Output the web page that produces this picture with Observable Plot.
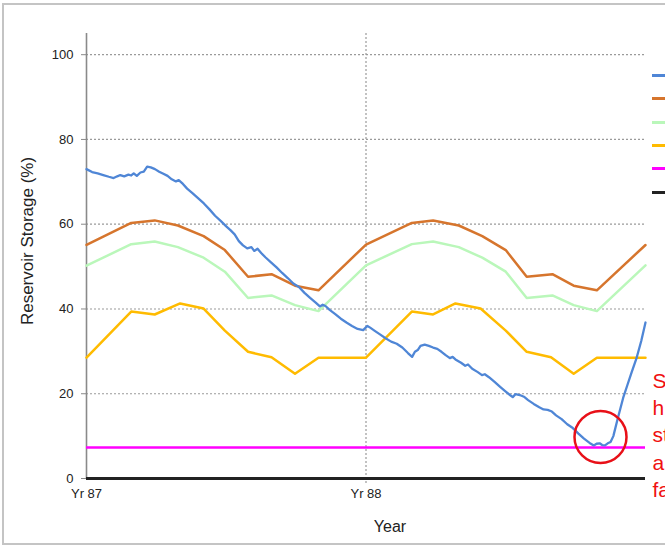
<!DOCTYPE html>
<html>
<head>
<meta charset="utf-8">
<script src="https://cdn.jsdelivr.net/npm/d3@7"></script>
<script src="https://cdn.jsdelivr.net/npm/@observablehq/plot@0.6"></script>
<style>
  html, body { margin: 0; padding: 0; background: #fff; overflow: hidden; }
  #wrap { position: relative; width: 665px; height: 550px; overflow: hidden; font-family: "Liberation Sans", Arial, sans-serif; }
  #frame { position: absolute; left: 2px; top: 3px; width: 720px; height: 542px; border: 2px solid #c4c4c4; box-sizing: border-box; }
  #chart { position: absolute; left: 0; top: 0; }
  #legend { position: absolute; left: 652px; top: 0; }
  .sw { position: absolute; left: 0; width: 20px; height: 3px; }
</style>
</head>
<body>
<div id="wrap">
  <div id="frame"></div>
  <div id="chart"></div>
  <div id="legend"></div>
</div>
<script>
// ---------- data ----------
const xTicks = [0, 1];
const xTickLabels = ["Yr 87", "Yr 88"];
const yTicks = [0, 20, 40, 60, 80, 100];
const yGrid = [20, 40, 60, 80, 100];

// simulated storage (blue)
const storage = [
  [0.000,73.0],[0.020,72.3],[0.040,72.0],[0.060,71.6],[0.080,71.2],[0.097,70.9],[0.110,71.3],
  [0.121,71.6],[0.135,71.3],[0.150,71.7],[0.160,71.5],[0.169,72.0],[0.180,71.4],[0.193,72.2],
  [0.205,72.4],[0.217,73.6],[0.230,73.4],[0.245,73.0],[0.260,72.4],[0.275,71.9],[0.290,71.4],
  [0.305,70.6],[0.320,70.1],[0.330,70.4],[0.345,69.5],[0.360,68.4],[0.380,67.3],[0.400,66.1],
  [0.420,64.9],[0.440,63.5],[0.460,62.0],[0.480,60.8],[0.500,59.5],[0.515,58.6],[0.530,57.6],
  [0.545,56.0],[0.560,55.0],[0.575,54.3],[0.590,54.6],[0.600,53.7],[0.612,54.2],[0.625,53.2],
  [0.640,52.2],[0.660,51.0],[0.680,49.8],[0.700,48.5],[0.720,47.3],[0.740,46.0],[0.760,45.2],
  [0.780,43.8],[0.800,42.6],[0.820,41.5],[0.835,40.6],[0.845,41.0],[0.855,40.7],[0.870,39.8],
  [0.890,38.8],[0.910,37.7],[0.930,36.8],[0.950,36.0],[0.970,35.3],[0.990,35.0],[1.005,36.0],
  [1.015,35.6],[1.030,34.9],[1.050,34.0],[1.070,33.1],[1.090,32.3],[1.110,31.8],[1.130,30.9],
  [1.150,29.6],[1.165,28.7],[1.175,29.9],[1.185,30.3],[1.195,31.3],[1.210,31.6],[1.225,31.3],
  [1.240,30.9],[1.255,30.6],[1.270,29.9],[1.285,29.1],[1.300,28.4],[1.310,28.7],[1.320,28.1],
  [1.340,27.3],[1.355,26.6],[1.365,26.9],[1.380,25.9],[1.400,25.1],[1.415,24.4],[1.425,24.6],
  [1.440,23.9],[1.460,22.8],[1.480,21.6],[1.500,20.5],[1.515,19.7],[1.525,19.2],[1.535,19.9],
  [1.550,19.7],[1.565,19.3],[1.580,18.5],[1.600,17.6],[1.620,16.8],[1.635,16.3],[1.650,16.2],
  [1.665,15.8],[1.680,14.9],[1.700,14.0],[1.720,12.8],[1.740,11.9],[1.760,10.6],[1.780,9.4],
  [1.800,8.4],[1.815,7.8],[1.825,8.2],[1.836,8.3],[1.845,7.9],[1.855,7.8],[1.865,8.3],
  [1.875,8.6],[1.885,10.0],[1.900,14.0],[1.920,19.0],[1.935,22.0],[1.950,25.0],[1.967,28.2],
  [1.985,32.5],[2.000,36.8]
];

// rule curve x positions (same for all three curves)
const curveX = [0, 0.16, 0.244, 0.327, 0.419, 0.495, 0.578, 0.662, 0.746, 0.83, 1.0,
                1.164, 1.24, 1.332, 1.416, 1.5, 1.575, 1.667, 1.743, 1.826, 2.0];
const upperCurve = [55.1, 60.3, 60.9, 59.7, 57.2, 53.9, 47.6, 48.2, 45.5, 44.4, 55.2,
                    60.3, 60.9, 59.7, 57.2, 53.9, 47.6, 48.2, 45.5, 44.4, 55.1];
const middleCurve = [50.2, 55.3, 55.9, 54.6, 52.1, 48.8, 42.6, 43.2, 40.9, 39.5, 50.3,
                     55.3, 55.9, 54.6, 52.1, 48.8, 42.6, 43.2, 40.9, 39.5, 50.3];
const lowerX = [0, 0.16, 0.244, 0.335, 0.419, 0.495, 0.578, 0.662, 0.746, 0.83, 1.0,
                1.164, 1.24, 1.32, 1.41, 1.5, 1.575, 1.662, 1.743, 1.826, 2.0];
const lowerCurve = [28.5, 39.4, 38.7, 41.3, 40.1, 34.9, 29.9, 28.6, 24.7, 28.5, 28.5,
                    39.4, 38.7, 41.3, 40.1, 34.9, 29.9, 28.6, 24.7, 28.5, 28.5];
const minLevel = 7.3;
const deadLevel = 0;

const circlePoint = [{x: 1.839, y: 9.8}];
const annotation = "S\nh\nst\na\nfa";
const annotationY = 10.6;

const colors = {
  storage: "#4f86d6",
  upper: "#d6752d",
  middle: "#baf7ba",
  lower: "#ffbb00",
  min: "#ff00ff",
  dead: "#222222"
};
const legendColors = [colors.storage, colors.upper, colors.middle, colors.lower, colors.min, colors.dead];

const toObjs = (xs, ys) => xs.map((x, i) => ({x, y: ys[i]}));
const storageData = storage.map(([x, y]) => ({x, y}));

// ---------- chart ----------
const chart = Plot.plot({
  width: 665,
  height: 550,
  marginLeft: 86,
  marginRight: 20,
  marginTop: 33,
  marginBottom: 72,
  x: {domain: [0, 2]},
  y: {domain: [0, 105]},
  style: {fontFamily: "'Liberation Sans', Arial, sans-serif", fontSize: "13px", color: "#222", background: "transparent", overflow: "hidden"},
  marks: [
    Plot.ruleY(yGrid, {x1: 0, x2: 2, stroke: "#9a9a9a", strokeWidth: 1.2, strokeDasharray: "2,2"}),
    Plot.ruleX([1], {stroke: "#9a9a9a", strokeWidth: 1.2, strokeDasharray: "2,2", y1: -1.2, y2: 105}),
    Plot.axisY({ticks: yTicks, tickSize: 5, tickPadding: 8, stroke: "#888", fontSize: 13, label: null}),
    Plot.axisX({ticks: xTicks, tickFormat: d => xTickLabels[d], tickSize: 0, tickPadding: 10, fontSize: 13, label: null}),
    Plot.ruleX([0], {stroke: "#8a8a8a", strokeWidth: 1.6}),
    Plot.line(toObjs(lowerX, lowerCurve), {x: "x", y: "y", stroke: colors.lower, strokeWidth: 2.5}),
    Plot.line(toObjs(curveX, middleCurve), {x: "x", y: "y", stroke: colors.middle, strokeWidth: 2.5}),
    Plot.line(toObjs(curveX, upperCurve), {x: "x", y: "y", stroke: colors.upper, strokeWidth: 2.5}),
    Plot.ruleY([minLevel], {x1: 0, x2: 2, stroke: colors.min, strokeWidth: 2.5}),
    Plot.line(storageData, {x: "x", y: "y", stroke: colors.storage, strokeWidth: 2.3}),
    Plot.ruleY([deadLevel], {x1: 0, x2: 2, stroke: colors.dead, strokeWidth: 3}),
    Plot.dot(circlePoint, {x: "x", y: "y", r: 26, stroke: "#e81018", strokeWidth: 2.5, fill: "none"}),
    Plot.text([annotation], {x: 2, y: annotationY, dx: 7, textAnchor: "start", lineAnchor: "middle", lineHeight: 1.3, fontSize: 21, fill: "#f01010"}),
    Plot.text(["Reservoir Storage (%)"], {frameAnchor: "left", textAnchor: "middle", dx: -59, dy: -15, rotate: -90, fontSize: 17, fill: "#222"}),
    Plot.text(["Year"], {frameAnchor: "bottom", textAnchor: "middle", dx: 24, dy: 53, fontSize: 16, fill: "#222"})
  ]
});
document.getElementById("chart").appendChild(chart);

// legend swatches (labels are cut off at the window edge in the reference)
const legend = document.getElementById("legend");
legendColors.forEach((c, i) => {
  const s = document.createElement("span");
  s.className = "sw";
  s.style.background = c;
  s.style.top = (74 + i * 23.3) + "px";
  legend.appendChild(s);
});
</script>
</body>
</html>
